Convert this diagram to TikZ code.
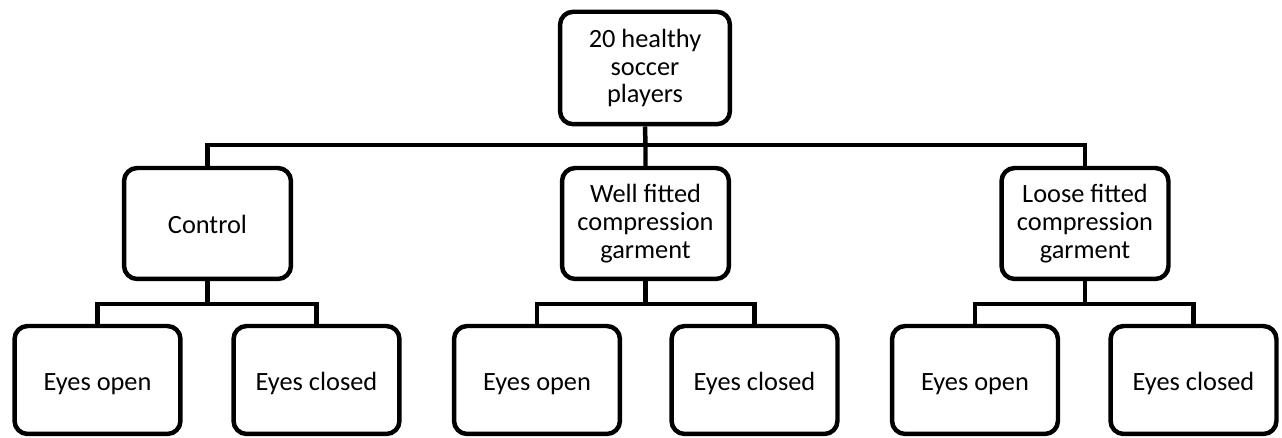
\documentclass[tikz,border=0pt]{standalone}
\usepackage{fontspec}
\setmainfont{Carlito}
\begin{document}
\begin{tikzpicture}[x=0.02cm,y=-0.02cm,
  box/.style={draw=black, line width=2.55pt, rounded corners=7.5pt, fill=white,
    inner sep=2pt, font=\fontsize{15}{15.8}\selectfont},
  multi/.style={box, align=center},
  lvtwo/.style={minimum width=3.34cm, minimum height=2.22cm},
  lvthree/.style={box, minimum width=3.32cm, minimum height=2.16cm, text height=12pt, text depth=0pt},
  conn/.style={line width=2.55pt}]
\useasboundingbox (0,0) rectangle (1282,438);
\node[multi, minimum width=3.4cm, minimum height=2.25cm] (top) at (645,68) {20 healthy\\soccer\\players};
\node[box, lvtwo, text height=11pt, text depth=0pt] (ctrl) at (207.5,223.5) {Control};
\node[multi, lvtwo] (well) at (645.5,223.5) {Well fitted\\compression\\garment};
\node[multi, lvtwo] (loose) at (1085,223.5) {Loose fitted\\compression\\garment};
\node[lvthree] (a) at (97.5,380) {Eyes open};
\node[lvthree] (b) at (316.5,380) {Eyes closed};
\node[lvthree] (c) at (537,380) {Eyes open};
\node[lvthree] (d) at (754.5,380) {Eyes closed};
\node[lvthree] (e) at (975,380) {Eyes open};
\node[lvthree] (f) at (1193.5,380) {Eyes closed};
\coordinate (j1) at (645.5,145);
\coordinate (ja) at (207.5,304);
\coordinate (jb) at (645.5,304);
\coordinate (jc) at (1085,304);
\draw[conn] (top.south) -- (j1) -- (well.north);
\draw[conn] (j1) -| (ctrl.north);
\draw[conn] (j1) -| (loose.north);
\draw[conn] (ctrl.south) -- (ja);
\draw[conn] (ja) -| (a.north);
\draw[conn] (ja) -| (b.north);
\draw[conn] (well.south) -- (jb);
\draw[conn] (jb) -| (c.north);
\draw[conn] (jb) -| (d.north);
\draw[conn] (loose.south) -- (jc);
\draw[conn] (jc) -| (e.north);
\draw[conn] (jc) -| (f.north);
\end{tikzpicture}
\end{document}
